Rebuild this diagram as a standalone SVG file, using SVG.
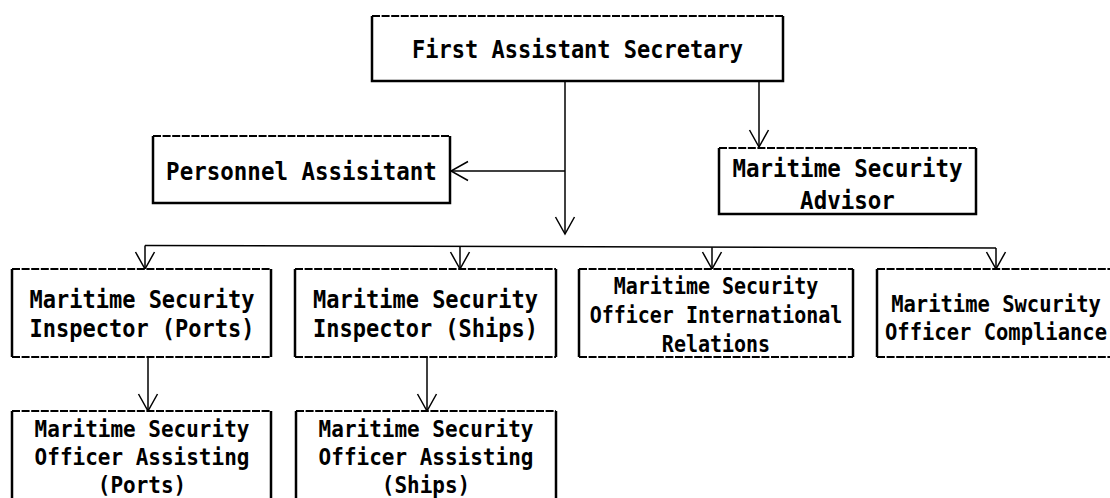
<svg xmlns="http://www.w3.org/2000/svg" width="1110" height="498" viewBox="0 0 1110 498">
  <style>
    .bg { fill: #ffffff; }
    .side { fill: none; stroke: #000; stroke-width: 2.5; }
    .dash { fill: none; stroke: #000; stroke-width: 1.8; stroke-dasharray: 8 1.6; }
    .lbl { font-family: "DejaVu Sans Mono", "Liberation Mono", monospace; font-weight: bold; fill: #000; text-anchor: middle; }
    .link { fill: none; stroke: #000; stroke-width: 1.5; }
  </style>
  <defs>
    <marker id="open" markerUnits="userSpaceOnUse" markerWidth="24" markerHeight="24" refX="0" refY="0" viewBox="-20 -12 24 24" orient="auto">
      <path d="M-17,-9.5 L0,0 L-17,9.5" fill="none" stroke="#000" stroke-width="1.5"/>
    </marker>
  </defs>
  <rect class="bg" x="0" y="0" width="1110" height="498"/>

  <!-- connectors -->
  <g id="connectors">
    <line class="link" x1="565" y1="81" x2="565" y2="234" marker-end="url(#open)"/>
    <line class="link" x1="565" y1="171" x2="451" y2="171" marker-end="url(#open)"/>
    <line class="link" x1="759" y1="81" x2="759" y2="147" marker-end="url(#open)"/>
    <line class="link" x1="145" y1="245.5" x2="996" y2="248"/>
    <line class="link" x1="145" y1="245.5" x2="145" y2="269" marker-end="url(#open)"/>
    <line class="link" x1="460" y1="246.4" x2="460" y2="269" marker-end="url(#open)"/>
    <line class="link" x1="712" y1="247.2" x2="712" y2="269" marker-end="url(#open)"/>
    <line class="link" x1="996" y1="248" x2="996" y2="269" marker-end="url(#open)"/>
    <line class="link" x1="148" y1="357" x2="148" y2="411" marker-end="url(#open)"/>
    <line class="link" x1="427" y1="357" x2="427" y2="411" marker-end="url(#open)"/>
  </g>

  <!-- First Assistant Secretary -->
  <g id="n-fas">
    <rect class="bg" x="372" y="16" width="411" height="65"/>
    <path class="side" d="M372,16 V81 H783 V16"/>
    <line class="dash" x1="372" y1="16" x2="783" y2="16"/>
    <text class="lbl" transform="matrix(1,0,0,1.12,577.5,58)" font-size="22">First Assistant Secretary</text>
  </g>

  <!-- Personnel Assisitant -->
  <g id="n-personnel">
    <rect class="bg" x="153" y="136" width="297" height="67"/>
    <path class="side" d="M153,136 V203 H450 V136"/>
    <line class="dash" x1="153" y1="136" x2="450" y2="136"/>
    <text class="lbl" transform="matrix(1,0,0,1.12,301.5,180)" font-size="22.5">Personnel Assisitant</text>
  </g>

  <!-- Maritime Security Advisor -->
  <g id="n-advisor">
    <rect class="bg" x="719" y="148" width="257" height="66"/>
    <path class="side" d="M719,148 V214 H976 V148"/>
    <line class="dash" x1="719" y1="148" x2="976" y2="148"/>
    <text class="lbl" transform="matrix(1,0,0,1.12,847.5,177)" font-size="22.5">Maritime Security</text>
    <text class="lbl" transform="matrix(1,0,0,1.12,847.5,209)" font-size="22.5">Advisor</text>
  </g>

  <!-- Maritime Security Inspector (Ports) -->
  <g id="n-insp-ports">
    <rect class="bg" x="12" y="269" width="259" height="88"/>
    <path class="side" d="M12,269 V357 M271,269 V357"/>
    <line class="dash" x1="12" y1="269" x2="271" y2="269"/>
    <line class="dash" x1="12" y1="357" x2="271" y2="357"/>
    <text class="lbl" transform="matrix(1,0,0,1.12,142,308)" font-size="22">Maritime Security</text>
    <text class="lbl" transform="matrix(1,0,0,1.12,142,337)" font-size="22">Inspector (Ports)</text>
  </g>

  <!-- Maritime Security Inspector (Ships) -->
  <g id="n-insp-ships">
    <rect class="bg" x="295" y="269" width="261" height="88"/>
    <path class="side" d="M295,269 V357 M556,269 V357"/>
    <line class="dash" x1="295" y1="269" x2="556" y2="269"/>
    <line class="dash" x1="295" y1="357" x2="556" y2="357"/>
    <text class="lbl" transform="matrix(1,0,0,1.12,425.5,308)" font-size="22">Maritime Security</text>
    <text class="lbl" transform="matrix(1,0,0,1.12,425.5,337)" font-size="22">Inspector (Ships)</text>
  </g>

  <!-- Maritime Security Officer International Relations -->
  <g id="n-intl">
    <rect class="bg" x="579" y="269" width="274" height="88"/>
    <path class="side" d="M579,269 V357 M853,269 V357"/>
    <line class="dash" x1="579" y1="269" x2="853" y2="269"/>
    <line class="dash" x1="579" y1="357" x2="853" y2="357"/>
    <text class="lbl" transform="matrix(1,0,0,1.12,716,294)" font-size="20">Maritime Security</text>
    <text class="lbl" transform="matrix(1,0,0,1.12,716,323)" font-size="20">Officer International</text>
    <text class="lbl" transform="matrix(1,0,0,1.12,716,352)" font-size="20">Relations</text>
  </g>

  <!-- Maritime Swcurity Officer Compliance -->
  <g id="n-compliance">
    <rect class="bg" x="877" y="269" width="240" height="88"/>
    <path class="side" d="M877,269 V357 M1117,269 V357"/>
    <line class="dash" x1="877" y1="269" x2="1117" y2="269"/>
    <line class="dash" x1="877" y1="357" x2="1117" y2="357"/>
    <text class="lbl" transform="matrix(1,0,0,1.12,996,312)" font-size="20.5">Maritime Swcurity</text>
    <text class="lbl" transform="matrix(1,0,0,1.12,996,340)" font-size="20.5">Officer Compliance</text>
  </g>

  <!-- Maritime Security Officer Assisting (Ports) -->
  <g id="n-assist-ports">
    <rect class="bg" x="12" y="411" width="259" height="95"/>
    <path class="side" d="M12,411 V506 M271,411 V506"/>
    <line class="dash" x1="12" y1="411" x2="271" y2="411"/>
    <text class="lbl" transform="matrix(1,0,0,1.12,142,437)" font-size="21">Maritime Security</text>
    <text class="lbl" transform="matrix(1,0,0,1.12,142,465)" font-size="21">Officer Assisting</text>
    <text class="lbl" transform="matrix(1,0,0,1.12,142,493)" font-size="21">(Ports)</text>
  </g>

  <!-- Maritime Security Officer Assisting (Ships) -->
  <g id="n-assist-ships">
    <rect class="bg" x="296" y="411" width="260" height="95"/>
    <path class="side" d="M296,411 V506 M556,411 V506"/>
    <line class="dash" x1="296" y1="411" x2="556" y2="411"/>
    <text class="lbl" transform="matrix(1,0,0,1.12,426,437)" font-size="21">Maritime Security</text>
    <text class="lbl" transform="matrix(1,0,0,1.12,426,465)" font-size="21">Officer Assisting</text>
    <text class="lbl" transform="matrix(1,0,0,1.12,426,493)" font-size="21">(Ships)</text>
  </g>
</svg>
